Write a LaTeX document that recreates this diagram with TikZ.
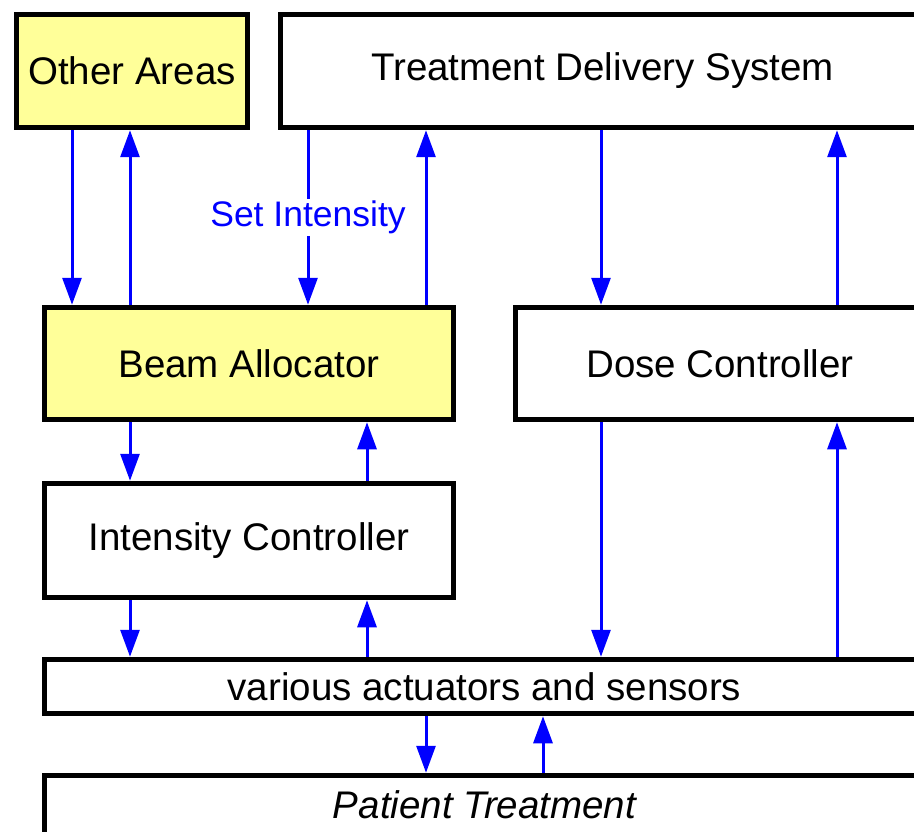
\documentclass[tikz,border=0pt]{standalone}
\usepackage{fontspec}
\setmainfont{Liberation Sans}
\usetikzlibrary{arrows.meta}
\definecolor{boxyellow}{HTML}{FFFF99}
\tikzset{
  blk/.style={draw=black, line width=5.5pt, fill=white, rectangle, inner sep=0pt,
    font=\fontsize{38.5}{46}\selectfont, text=black},
  hot/.style={blk, fill=boxyellow},
  flow/.style={draw=blue, line width=3pt, -{Triangle[length=27pt,width=19pt]}},
  tag/.style={fill=white, text=blue, inner sep=2pt, font=\fontsize{35.5}{42}\selectfont}
}
\begin{document}
\begin{tikzpicture}[x=1pt, y=-1pt]
\useasboundingbox (0,0) rectangle (914,832);
\clip (0,0) rectangle (914,832);
\fill[white] (0,0) rectangle (914,832);

% boxes
\node[hot, minimum width=231pt, minimum height=113pt] (other) at (132,71) {Other Areas};
\node[blk, minimum width=644pt, minimum height=113pt] (tds) at (602.5,71) {Treatment Delivery System};
\node[hot, minimum width=409pt, minimum height=112pt] (beam) at (249,363.5) {Beam Allocator};
\node[blk, minimum width=409pt, minimum height=112pt] (dose) at (720,363.5) {Dose Controller};
\node[blk, minimum width=409pt, minimum height=114pt] (ic) at (249,540.5) {Intensity Controller};
\node[blk, minimum width=880pt, minimum height=54pt] (act) at (484.5,686.5) {various actuators and sensors};
\node[blk, minimum width=880pt, minimum height=62pt] (pt) at (484.5,806.5) {\raisebox{3pt}{\itshape Patient Treatment}};

% Other Areas <-> Beam Allocator
\draw[flow] (other.south -| 72,0) -- (beam.north -| 72,0);
\draw[flow] (beam.north -| 130,0) -- (other.south -| 130,0);

% Treatment Delivery System <-> Beam Allocator
\draw[flow] (tds.south -| 308,0) -- node[tag] {Set Intensity} (beam.north -| 308,0);
\draw[flow] (beam.north -| 426,0) -- (tds.south -| 426,0);

% Treatment Delivery System <-> Dose Controller
\draw[flow] (tds.south -| 601,0) -- (dose.north -| 601,0);
\draw[flow] (dose.north -| 837,0) -- (tds.south -| 837,0);

% Beam Allocator <-> Intensity Controller
\draw[flow] (beam.south -| 130,0) -- (ic.north -| 130,0);
\draw[flow] (ic.north -| 367,0) -- (beam.south -| 367,0);

% Intensity Controller <-> actuators
\draw[flow] (ic.south -| 130,0) -- (act.north -| 130,0);
\draw[flow] (act.north -| 367,0) -- (ic.south -| 367,0);

% Dose Controller <-> actuators
\draw[flow] (dose.south -| 601,0) -- (act.north -| 601,0);
\draw[flow] (act.north -| 837,0) -- (dose.south -| 837,0);

% actuators <-> Patient Treatment
\draw[flow] (act.south -| 426,0) -- (pt.north -| 426,0);
\draw[flow] (pt.north -| 543,0) -- (act.south -| 543,0);
\end{tikzpicture}
\end{document}
